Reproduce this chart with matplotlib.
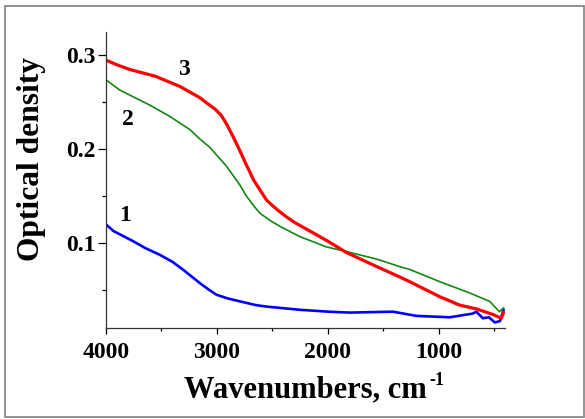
import matplotlib
matplotlib.use('Agg')
import matplotlib.pyplot as plt
from matplotlib.patches import Rectangle

plt.rcParams['font.family'] = 'Liberation Serif'
plt.rcParams['font.weight'] = 'bold'

# curve 3 (red)
wn_3 = [4000, 3900, 3784, 3559, 3334, 3154, 3100, 3019, 2960, 2914, 2870, 2824, 2780,
        2734, 2700, 2674, 2614, 2554, 2500, 2450, 2374, 2300, 2134, 2000, 1833, 1560,
        1354, 1264, 994, 814, 664, 514, 438, 418]
od_3 = [0.295, 0.290, 0.285, 0.278, 0.267, 0.255, 0.250, 0.243, 0.236, 0.227, 0.217, 0.206, 0.195,
        0.183, 0.175, 0.168, 0.157, 0.146, 0.140, 0.135, 0.128, 0.122, 0.111, 0.102, 0.090, 0.075,
        0.064, 0.059, 0.043, 0.034, 0.030, 0.024, 0.020, 0.026]

# curve 2 (green)
wn_2 = [4000, 3874, 3604, 3424, 3244, 3154, 3064, 2974, 2914, 2854, 2794, 2734, 2670, 2614,
        2520, 2434, 2254, 2014, 1833, 1594, 1534, 1354, 1264, 994, 724, 544, 454, 418]
od_2 = [0.274, 0.263, 0.247, 0.235, 0.221, 0.211, 0.202, 0.190, 0.182, 0.172, 0.162, 0.150, 0.140, 0.132,
        0.124, 0.118, 0.107, 0.096, 0.091, 0.084, 0.082, 0.075, 0.072, 0.059, 0.047, 0.038, 0.027, 0.031]

# curve 1 (blue)
wn_1 = [4000, 3934, 3754, 3650, 3514, 3400, 3304, 3154, 3080, 3004, 2900, 2794, 2650, 2554,
        2254, 2000, 1804, 1415, 1204, 904, 694, 664, 604, 550, 496, 450, 418]
od_1 = [0.120, 0.113, 0.102, 0.095, 0.0875, 0.080, 0.0716, 0.0574, 0.051, 0.045, 0.041, 0.038, 0.034, 0.0324,
        0.029, 0.027, 0.026, 0.027, 0.0225, 0.021, 0.025, 0.027, 0.020, 0.021, 0.0155, 0.017, 0.029]

fig = plt.figure(figsize=(5.85, 4.19), dpi=100)
ax = fig.add_axes([0.1812, 0.2181, 0.682, 0.7055])

ax.plot(wn_1, od_1, color='#0000ff', lw=1.9)
ax.plot(wn_2, od_2, color='#118811', lw=1.2)
ax.plot(wn_3, od_3, color='#ff0000', lw=2.3)

ax.set_xlim(4000, 405)
ax.set_ylim(0.010, 0.325)
ax.set_xticks([4000, 3000, 2000, 1000])
ax.set_xticks([3500, 2500, 1500, 500], minor=True)
ax.set_yticks([0.1, 0.2, 0.3])
ax.set_yticks([0.05, 0.15, 0.25], minor=True)
ax.set_yticklabels(['0.1', '0.2', '0.3'])

for s in ['top', 'right']:
    ax.spines[s].set_visible(False)
for s in ['left', 'bottom']:
    ax.spines[s].set_linewidth(0.9)
    ax.spines[s].set_color('#333333')

ax.tick_params(axis='x', which='major', direction='out', length=4, width=0.9, labelsize=17, pad=6)
ax.tick_params(axis='x', which='minor', direction='out', length=2.5, width=0.9)
ax.tick_params(axis='y', which='major', direction='out', length=5.5, width=0.9, labelsize=17, pad=2)
ax.tick_params(axis='y', which='minor', direction='out', length=3, width=0.9)

# curve labels
ax.text(3830, 0.129, '1', fontsize=17, ha='center', va='center')
ax.text(3800, 0.232, '2', fontsize=17, ha='center', va='center')
ax.text(3300, 0.285, '3', fontsize=17, ha='center', va='center')

fig.text(32 / 585, 1 - 159 / 419, 'Optical density', rotation=90, fontsize=22.7,
         ha='center', va='center')
xl = fig.text(184 / 585, 1 - 397 / 419, 'Wavenumbers, cm', fontsize=22,
              ha='left', va='baseline')
fig.canvas.draw()
bb = xl.get_window_extent()
fig.text((bb.x1 + 3) / 585, 1 - 385 / 419, '-1', fontsize=13, ha='left', va='baseline')

fig.patches.append(Rectangle((0.008, 0.005), 0.990, 0.981, transform=fig.transFigure,
                             fill=False, edgecolor='#8a8a8a', lw=1.3))

fig.savefig('out.png', dpi=100)
